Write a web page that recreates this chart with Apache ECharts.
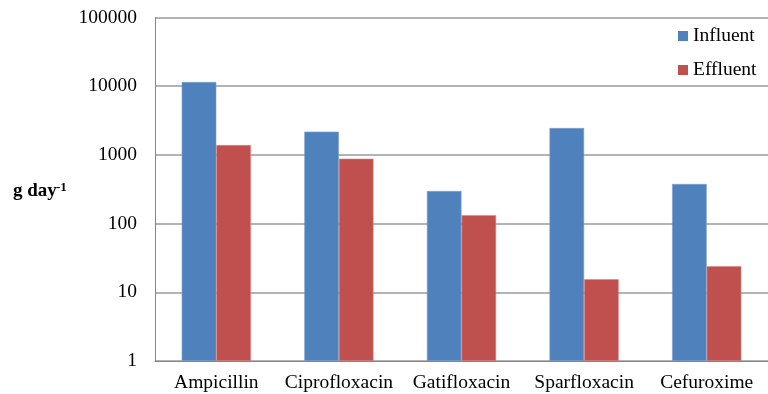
<!DOCTYPE html>
<html>
<head>
<meta charset="utf-8">
<style>
  html, body { margin: 0; padding: 0; background: #fff; }
  #chart { width: 768px; height: 394px; }
</style>
<script src="https://cdn.jsdelivr.net/npm/echarts@6/dist/echarts.min.js"></script>
</head>
<body>
<div id="chart"></div>
<script>
// Antibiotic loads (g/day) entering and leaving the treatment plant
const categories = ['Ampicillin', 'Ciprofloxacin', 'Gatifloxacin', 'Sparfloxacin', 'Cefuroxime'];
const influent = [11500, 2180, 298, 2460, 377];
const effluent = [1390, 880, 133, 15.5, 24];
const yTickLabels = ['1', '10', '100', '1000', '10000', '100000'];

const FONT = '"Liberation Serif", "DejaVu Serif", serif';

const chart = echarts.init(document.getElementById('chart'), null, { renderer: 'canvas' });

chart.setOption({
  animation: false,
  backgroundColor: '#fff',
  grid: { left: 155, right: 0, top: 17.5, bottom: 33, containLabel: false },
  legend: {
    orient: 'vertical',
    left: 673,
    top: 21,
    icon: 'rect',
    itemWidth: 10,
    itemHeight: 10,
    itemGap: 14,
    itemStyle: { borderWidth: 0 },
    textStyle: { fontFamily: FONT, fontSize: 19.5, color: '#000', lineHeight: 20 },
    data: ['Influent', 'Effluent']
  },
  xAxis: {
    type: 'category',
    data: categories,
    axisLine: { lineStyle: { color: '#868686', width: 1 } },
    axisTick: { show: false },
    axisLabel: { fontFamily: FONT, fontSize: 19.5, color: '#000', margin: 12, interval: 0 }
  },
  yAxis: {
    type: 'log',
    logBase: 10,
    min: 1,
    max: 100000,
    axisLine: { show: true, lineStyle: { color: '#868686', width: 1 } },
    axisTick: { show: false },
    splitLine: { show: true, lineStyle: { color: '#9a9a9a', width: 1.5 } },
    axisLabel: {
      fontFamily: FONT,
      fontSize: 19.5,
      color: '#000',
      margin: 18,
      formatter: function (v) {
        const i = Math.round(Math.log10(v));
        return yTickLabels[i] !== undefined ? yTickLabels[i] : '';
      }
    }
  },
  series: [
    {
      name: 'Influent',
      type: 'bar',
      data: influent,
      barWidth: 34.6,
      barGap: '0%',
      itemStyle: { color: '#4F81BD', borderColor: '#7da0cf', borderWidth: 0.6 }
    },
    {
      name: 'Effluent',
      type: 'bar',
      data: effluent,
      barWidth: 34.6,
      barGap: '0%',
      itemStyle: { color: '#C0504D', borderColor: '#d88583', borderWidth: 0.6 }
    }
  ],
  graphic: [
    {
      type: 'text',
      left: 13,
      top: 182,
      style: { text: 'g day', font: 'bold 19px ' + FONT, fill: '#000' }
    },
    {
      type: 'text',
      left: 56,
      top: 181,
      style: { text: '-1', font: 'bold 13px ' + FONT, fill: '#000' }
    }
  ]
});
</script>
</body>
</html>
